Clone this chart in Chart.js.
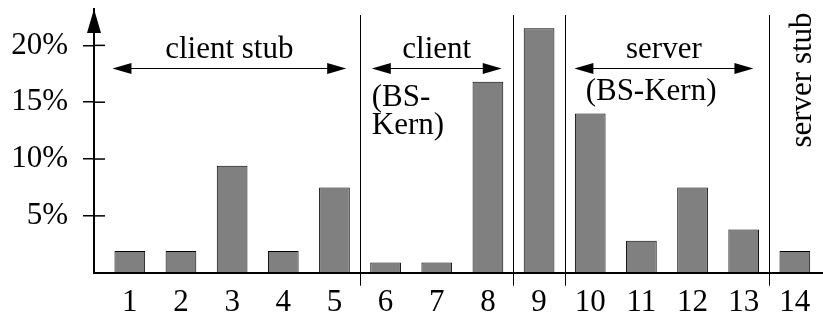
<!DOCTYPE html>
<html>
<head>
<meta charset="utf-8">
<script src="https://cdn.jsdelivr.net/npm/chart.js@4"></script>
<style>
  html, body { margin: 0; padding: 0; background: #fff; }
  #wrap { width: 823px; height: 312px; }
</style>
</head>
<body>
<div id="wrap"><canvas id="chart" width="823" height="312"></canvas></div>
<script>
// measurement points 1..14 and their share of total time (%)
const positions = [1, 2, 3, 4, 5, 6, 7, 8, 9, 10, 11, 12, 13, 14];
const shares = [1.9, 1.9, 9.4, 1.9, 7.5, 0.9, 0.9, 16.8, 21.5, 14.0, 2.8, 7.5, 3.8, 1.9];
const yTicks = [5, 10, 15, 20];

// section borders between the measurement points
const dividers = [5.5, 8.5, 9.5, 13.5];

// double arrows spanning a section
const spanLabels = ['client stub', 'client', 'server'];
const spanFrom = [0.66, 5.73, 9.69];
const spanTo = [5.23, 8.27, 13.19];
const spanLevel = 18;

const FAMILY = '"Liberation Serif", "Times New Roman", serif';
const FONT = '31px ' + FAMILY;

function arrowHead(ctx, x, y, dir) {
  ctx.beginPath();
  ctx.moveTo(x, y);
  ctx.lineTo(x - dir * 19, y - 5.5);
  ctx.lineTo(x - dir * 19, y + 5.5);
  ctx.closePath();
  ctx.fill();
}

const notes = {
  id: 'notes',
  afterDraw(chart) {
    const ctx = chart.ctx;
    const { left, top, bottom } = chart.chartArea;
    const xs = chart.scales.x, ys = chart.scales.y;
    ctx.save();
    ctx.fillStyle = '#000';
    ctx.strokeStyle = '#000';

    // arrow on top of the y axis
    ctx.beginPath();
    ctx.moveTo(left, top);
    ctx.lineTo(left - 7, top + 24);
    ctx.lineTo(left + 7, top + 24);
    ctx.closePath();
    ctx.fill();

    // inner part of the y ticks
    ctx.lineWidth = 1.5;
    for (const v of yTicks) {
      const y = ys.getPixelForValue(v);
      ctx.beginPath();
      ctx.moveTo(left, y);
      ctx.lineTo(left + 11, y);
      ctx.stroke();
    }

    // section dividers
    ctx.lineWidth = 1;
    for (const d of dividers) {
      const x = Math.round(xs.getPixelForValue(d)) + 0.5;
      ctx.beginPath();
      ctx.moveTo(x, 15);
      ctx.lineTo(x, bottom + 13);
      ctx.stroke();
    }

    // spans
    ctx.font = FONT;
    ctx.textBaseline = 'alphabetic';
    const ay = Math.round(ys.getPixelForValue(spanLevel)) + 0.5;
    spanLabels.forEach((lab, i) => {
      const x1 = xs.getPixelForValue(spanFrom[i]);
      const x2 = xs.getPixelForValue(spanTo[i]);
      ctx.beginPath();
      ctx.moveTo(x1 + 10, ay);
      ctx.lineTo(x2 - 10, ay);
      ctx.stroke();
      arrowHead(ctx, x1, ay, -1);
      arrowHead(ctx, x2, ay, 1);
      ctx.textAlign = 'center';
      ctx.fillText(lab, (x1 + x2) / 2, ay - 11);
    });

    ctx.textAlign = 'left';
    const cx = xs.getPixelForValue(spanFrom[1]);
    ctx.fillText('(BS-', cx, ay + 37);
    ctx.fillText('Kern)', cx, ay + 65);
    ctx.fillText('(BS-Kern)', xs.getPixelForValue(9.91), ay + 31);

    // rotated label for the last section
    ctx.save();
    ctx.translate(xs.getPixelForValue(14) + 16, 80);
    ctx.rotate(-Math.PI / 2);
    ctx.textAlign = 'center';
    ctx.fillText('server stub', 0, 0);
    ctx.restore();

    ctx.restore();
  }
};

new Chart(document.getElementById('chart'), {
  type: 'bar',
  data: {
    datasets: [{
      data: positions.map((p, i) => ({ x: p, y: shares[i] })),
      backgroundColor: '#808080',
      borderColor: '#000',
      borderWidth: 1,
      barPercentage: 0.6,
      categoryPercentage: 1
    }]
  },
  options: {
    responsive: false,
    animation: false,
    layout: { padding: { top: 9, right: 0, left: 0, bottom: 0 } },
    plugins: { legend: { display: false }, tooltip: { enabled: false } },
    scales: {
      x: {
        type: 'linear',
        offset: false,
        min: 0.3,
        max: 14.55,
        afterFit: s => {
          s.height = 39.3;
          s.paddingLeft = 0;
          s.paddingRight = 0;
        },
        grid: { display: false },
        border: { color: '#000', width: 2 },
        ticks: {
          stepSize: 1,
          includeBounds: false,
          padding: 4,
          color: '#000',
          font: { family: FAMILY, size: 31 }
        }
      },
      y: {
        min: 0,
        max: 23.2,
        afterFit: s => {
          s.width = 94;
          s.paddingTop = 0;
          s.paddingBottom = 0;
        },
        grid: {
          drawOnChartArea: false,
          tickLength: 11,
          lineWidth: 1.5,
          color: c => (c.tick && c.tick.value === 0 ? 'rgba(0,0,0,0)' : '#000')
        },
        border: { color: '#000', width: 2 },
        ticks: {
          stepSize: 5,
          includeBounds: false,
          padding: 15,
          color: '#000',
          font: { family: FAMILY, size: 31 },
          callback: v => (v === 0 ? '' : v + '%')
        }
      }
    }
  },
  plugins: [notes]
});
</script>
</body>
</html>
